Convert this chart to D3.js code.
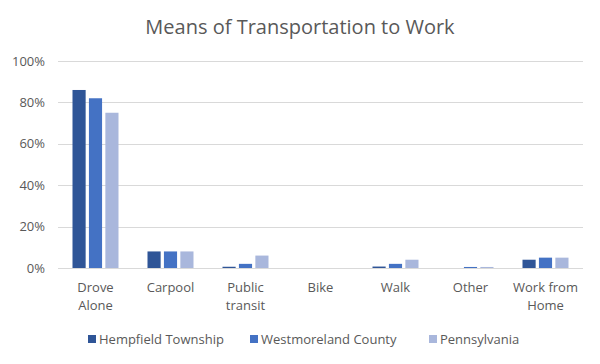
<!DOCTYPE html>
<html>
<head>
<meta charset="utf-8">
<script src="https://cdn.jsdelivr.net/npm/d3@7"></script>
<style>
  body { margin: 0; background: #fff; }
  text { font-family: "Open Sans", "Noto Sans", sans-serif; fill: #595959; }
</style>
</head>
<body>
<svg id="chart" width="600" height="364"></svg>
<script>
  const categories = ['Drove Alone', 'Carpool', 'Public transit', 'Bike', 'Walk', 'Other', 'Work from Home'];
  const seriesNames = ['Hempfield Township', 'Westmoreland County', 'Pennsylvania'];
  const hempfield = [86, 8, 0.6, 0, 0.7, 0, 4];
  const westmoreland = [82, 8, 2, 0, 2, 0.5, 5];
  const pennsylvania = [75, 8, 6, 0, 4, 0.5, 5];
  const yTicks = [0, 20, 40, 60, 80, 100];
  const colors = ['#2F5597', '#4472C4', '#A9B7DC'];

  const series = [hempfield, westmoreland, pennsylvania];
  const rows = categories.map((c, i) => ({ name: c, values: series.map(s => s[i]) }));

  const svg = d3.select('#chart');
  const width = +svg.attr('width');

  const x = d3.scaleBand().domain(categories).range([58, 583]);
  const y = d3.scaleLinear().domain([0, 100]).range([268, 61]);
  const inner = d3.scaleBand().domain(d3.range(3)).range([-23, 23]).paddingInner(0.2);

  svg.append('text')
    .attr('x', width / 2)
    .attr('y', 34)
    .attr('text-anchor', 'middle')
    .style('font-size', '20px')
    .text('Means of Transportation to Work');

  // gridlines
  svg.append('g')
    .selectAll('line')
    .data(yTicks)
    .enter()
    .append('line')
    .attr('x1', 58)
    .attr('x2', 583)
    .attr('y1', d => Math.round(y(d)) + 0.5)
    .attr('y2', d => Math.round(y(d)) + 0.5)
    .attr('stroke', '#D9D9D9')
    .attr('stroke-width', 1);

  const yAxis = svg.append('g')
    .attr('transform', 'translate(45,0)')
    .call(d3.axisLeft(y).tickValues(yTicks).tickFormat(d => d + '%').tickSize(0).tickPadding(0));
  yAxis.select('.domain').remove();
  yAxis.selectAll('text').style('font-size', '13px').attr('fill', '#595959');

  const group = svg.append('g')
    .selectAll('g')
    .data(rows)
    .enter()
    .append('g')
    .attr('transform', d => `translate(${x(d.name) + x.bandwidth() / 2},0)`);

  group.selectAll('rect')
    .data(d => d.values)
    .enter()
    .append('rect')
    .attr('x', (d, i) => inner(i))
    .attr('width', inner.bandwidth())
    .attr('y', d => y(d))
    .attr('height', d => y(0) - y(d))
    .attr('fill', (d, i) => colors[i]);

  // category labels, wrapped like Excel
  const labels = svg.append('g')
    .selectAll('text')
    .data(categories)
    .enter()
    .append('text')
    .attr('text-anchor', 'middle')
    .style('font-size', '13px')
    .attr('x', d => x(d) + x.bandwidth() / 2)
    .attr('y', 292);

  labels.each(function (d) {
    const el = d3.select(this);
    const words = d.split(' ');
    let lines = [];
    let line = [];
    words.forEach(w => {
      line.push(w);
      el.text(line.join(' '));
      if (this.getComputedTextLength() > 66 && line.length > 1) {
        line.pop();
        lines.push(line.join(' '));
        line = [w];
      }
    });
    lines.push(line.join(' '));
    el.text(null);
    el.selectAll('tspan')
      .data(lines)
      .enter()
      .append('tspan')
      .attr('x', x(d) + x.bandwidth() / 2)
      .attr('dy', (l, i) => (i === 0 ? 0 : 18))
      .text(l => l);
  });

  // legend
  const legendX = [88, 250, 429];
  const legend = svg.append('g')
    .selectAll('g')
    .data(seriesNames)
    .enter()
    .append('g')
    .attr('transform', (d, i) => `translate(${legendX[i]},335)`);

  legend.append('rect')
    .attr('width', 8)
    .attr('height', 8)
    .attr('fill', (d, i) => colors[i]);

  legend.append('text')
    .attr('x', 11)
    .attr('y', 9)
    .style('font-size', '13px')
    .text(d => d);
</script>
</body>
</html>
